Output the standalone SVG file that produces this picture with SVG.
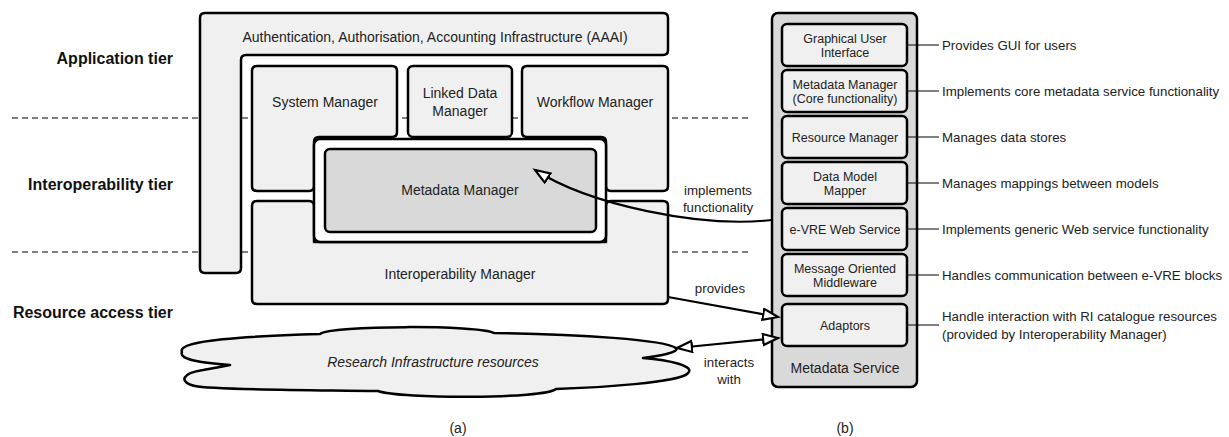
<svg xmlns="http://www.w3.org/2000/svg" width="1229" height="437" viewBox="0 0 1229 437">
<style>
.t{font-family:"Liberation Sans",Arial,sans-serif;fill:#222;text-anchor:middle}
.l{font-size:14px}
.b{font-size:12.5px}
.d{font-size:13.3px;text-anchor:start}
.tier{font-family:"Liberation Sans",Arial,sans-serif;font-weight:bold;font-size:16px;fill:#111;text-anchor:end}
.box{fill:#f0f0f0;stroke:#000;stroke-width:2.5;stroke-linejoin:round}
.grey{fill:#d9d9d9;stroke:#000;stroke-width:2.5}
.dash{stroke:#555;stroke-width:1.3;stroke-dasharray:6 4;fill:none}
.con{stroke:#000;stroke-width:2.2;fill:none}
.tick{stroke:#000;stroke-width:1}
</style>
<defs>
<marker id="open" markerUnits="userSpaceOnUse" markerWidth="20" markerHeight="16" refX="16" refY="6.5" orient="auto-start-reverse">
<path d="M1,1 L16,6.5 L1,12 Z" fill="#fff" stroke="#000" stroke-width="2.2" stroke-linejoin="miter"/>
</marker>
</defs>
<rect width="1229" height="437" fill="#fff"/>

<g id="tiers">
<line class="dash" x1="12" y1="118" x2="748" y2="118"/>
<line class="dash" x1="12" y1="252" x2="748" y2="252"/>
<text class="tier" x="173" y="64">Application tier</text>
<text class="tier" x="173" y="190">Interoperability tier</text>
<text class="tier" x="173" y="318">Resource access tier</text>
</g>

<g id="aaai">
<path class="box" d="M205,13 H663 Q668,13 668,18 V50 Q668,55 663,55 H246 Q241,55 241,60 V268 Q241,273 236,273 H205 Q200,273 200,268 V18 Q200,13 205,13 Z"/>
<text class="t l" x="435" y="42">Authentication, Authorisation, Accounting Infrastructure (AAAI)</text>
</g>

<g id="system-manager">
<path class="box" d="M257,66 H392 Q397,66 397,71 V132 Q397,137 392,137 H319 Q314,137 314,142 V186 Q314,191 309,191 H257 Q252,191 252,186 V71 Q252,66 257,66 Z"/>
<text class="t l" x="325" y="107">System Manager</text>
</g>

<g id="linked-data-manager">
<rect class="box" x="408" y="66" width="104" height="71" rx="5"/>
<text class="t l" x="460" y="98">Linked Data</text>
<text class="t l" x="460" y="116">Manager</text>
</g>

<g id="workflow-manager">
<path class="box" d="M527,66 H663 Q668,66 668,71 V186 Q668,191 663,191 H611 Q606,191 606,186 V142 Q606,137 601,137 H527 Q522,137 522,132 V71 Q522,66 527,66 Z"/>
<text class="t l" x="595" y="107">Workflow Manager</text>
</g>

<g id="interoperability-manager">
<path class="box" d="M257,201 H309 Q314,201 314,206 V242 H606 V206 Q606,201 611,201 H663 Q668,201 668,206 V299 Q668,304 663,304 H257 Q252,304 252,299 V206 Q252,201 257,201 Z"/>
<text class="t l" x="460" y="279">Interoperability Manager</text>
</g>

<g id="metadata-manager">
<rect x="314" y="139" width="292" height="103" rx="6" fill="#fff" stroke="#000" stroke-width="2.5"/>
<rect class="grey" x="325" y="149" width="271" height="83" rx="5"/>
<text class="t l" x="460" y="195">Metadata Manager</text>
</g>

<g id="ri-resources">
<path class="box" d="M182,352 C176,340 250,336 320,334 C330,325 480,325 494,333 C580,334 665,340 676,348 C680,352 660,356 643,358 C668,360 698,366 687,374 C678,382 600,388 556,389 C545,399 400,399 378,391 C300,390 212,390 195,386 C178,382 182,373 203,370 C215,368 225,366 230,365 C205,363 178,360 182,352 Z"/>
<text class="t l" x="433" y="367" font-style="italic">Research Infrastructure resources</text>
</g>

<g id="metadata-service">
<rect class="grey" x="772" y="13" width="145" height="374" rx="6"/>
<text class="t l" x="845" y="373">Metadata Service</text>
</g>
<g id="gui">
<rect class="box" x="782" y="24" width="125" height="42" rx="5"/>
<text class="t b" x="845" y="42.5">Graphical User</text>
<text class="t b" x="845" y="56.5">Interface</text>
</g>
<g id="mm-core">
<rect class="box" x="782" y="70" width="125" height="42" rx="5"/>
<text class="t b" x="845" y="88.5">Metadata Manager</text>
<text class="t b" x="845" y="102.5">(Core functionality)</text>
</g>
<g id="resource-manager">
<rect class="box" x="782" y="116" width="125" height="42" rx="5"/>
<text class="t b" x="845" y="141.5">Resource Manager</text>
</g>
<g id="data-model-mapper">
<rect class="box" x="782" y="162" width="125" height="42" rx="5"/>
<text class="t b" x="845" y="180.5">Data Model</text>
<text class="t b" x="845" y="194.5">Mapper</text>
</g>
<g id="web-service">
<rect class="box" x="782" y="208" width="125" height="42" rx="5"/>
<text class="t b" x="845" y="233.5">e-VRE Web Service</text>
</g>
<g id="mom">
<rect class="box" x="782" y="254" width="125" height="42" rx="5"/>
<text class="t b" x="845" y="272.5">Message Oriented</text>
<text class="t b" x="845" y="286.5">Middleware</text>
</g>
<g id="adaptors">
<rect class="box" x="782" y="304" width="125" height="42" rx="5"/>
<text class="t b" x="845" y="329.5">Adaptors</text>
</g>

<g id="connectors">
<path class="con" d="M772,220 C700,228 590,205 535,170" marker-end="url(#open)"/>
<line class="con" x1="668" y1="297" x2="778" y2="317" marker-end="url(#open)"/>
<line class="con" x1="677" y1="348" x2="778" y2="338" marker-start="url(#open)" marker-end="url(#open)"/>
<text class="t d" x="718" y="195" style="text-anchor:middle">implements</text>
<text class="t d" x="718" y="212" style="text-anchor:middle">functionality</text>
<text class="t d" x="720" y="293" style="text-anchor:middle">provides</text>
<text class="t d" x="729" y="367" style="text-anchor:middle">interacts</text>
<text class="t d" x="729" y="384" style="text-anchor:middle">with</text>
<line class="tick" x1="907" y1="45" x2="939" y2="45"/>
<line class="tick" x1="907" y1="91" x2="939" y2="91"/>
<line class="tick" x1="907" y1="137" x2="939" y2="137"/>
<line class="tick" x1="907" y1="183" x2="939" y2="183"/>
<line class="tick" x1="907" y1="229" x2="939" y2="229"/>
<line class="tick" x1="907" y1="275" x2="939" y2="275"/>
<line class="tick" x1="907" y1="325" x2="939" y2="325"/>
</g>

<g id="descriptions">
<text class="t d" x="942" y="50">Provides GUI for users</text>
<text class="t d" x="942" y="96">Implements core metadata service functionality</text>
<text class="t d" x="942" y="142">Manages data stores</text>
<text class="t d" x="942" y="188">Manages mappings between models</text>
<text class="t d" x="942" y="234">Implements generic Web service functionality</text>
<text class="t d" x="942" y="280">Handles communication between e-VRE blocks</text>
<text class="t d" x="942" y="321">Handle interaction with RI catalogue resources</text>
<text class="t d" x="942" y="339">(provided by Interoperability Manager)</text>
</g>

<g id="captions">
<text class="t l" x="458" y="433">(a)</text>
<text class="t l" x="845" y="433">(b)</text>
</g>
</svg>
